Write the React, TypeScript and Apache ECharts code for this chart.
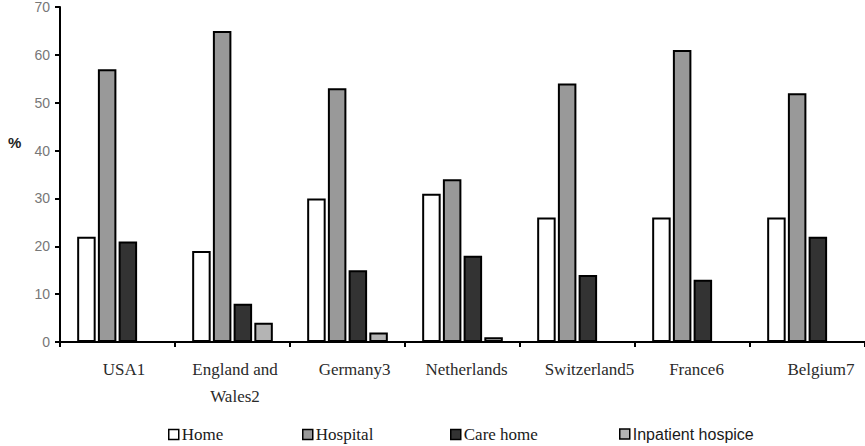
import React, { useEffect, useRef } from "react";
import * as echarts from "echarts";

const categories = ["USA1", "England and\nWales2", "Germany3", "Netherlands", "Switzerland5", "France6", "Belgium7"];
const labelShift = [13, 5, 14, 8, 24, 8, 27];
const home = [22, 19, 30, 31, 26, 26, 26];
const hospital = [57, 65, 53, 34, 54, 61, 52];
const careHome = [21, 8, 15, 18, 14, 13, 22];
const hospice: (number | null)[] = [null, 4, 2, 1, null, null, null];
const yTicks = [0, 10, 20, 30, 40, 50, 60, 70];

const seriesNames = ["Home", "Hospital", "Care home", "Inpatient hospice"];
const seriesColors = ["#ffffff", "#999999", "#333333", "#b4b4b4"];
const legendLeft = [163, 297, 445, 614];

export default function App() {
  const ref = useRef<HTMLDivElement>(null);
  useEffect(() => {
    if (!ref.current) return;
    const chart = echarts.init(ref.current, null, { renderer: "svg" });
    const dataSets = [home, hospital, careHome, hospice];
    const option: any = {
      animation: false,
      backgroundColor: "#ffffff",
      grid: { left: 60, right: -1, top: 6, bottom: 104, containLabel: false },
      xAxis: {
        type: "category",
        data: categories.map((c, i) => ({
          value: c,
          textStyle: { padding: [0, 0, 0, labelShift[i]] },
        })),
        axisLine: { lineStyle: { color: "#000", width: 2 } },
        axisTick: { show: true, length: 5, lineStyle: { color: "#000", width: 2 } },
        axisLabel: {
          margin: 14,
          fontFamily: "Liberation Serif",
          fontSize: 17,
          lineHeight: 27,
          color: "#2a2a2a",
          interval: 0,
        },
      },
      yAxis: {
        type: "value",
        min: yTicks[0],
        max: yTicks[yTicks.length - 1],
        interval: 10,
        splitLine: { show: false },
        axisLine: { show: true, lineStyle: { color: "#000", width: 2 } },
        axisTick: { show: true, length: 5, lineStyle: { color: "#000", width: 2 } },
        axisLabel: {
          margin: 10,
          fontFamily: "Liberation Sans",
          fontSize: 14,
          color: "#777",
        },
      },
      legend: seriesNames.map((n, i) => {
        const fam = i === 3 ? "Liberation Sans" : "Liberation Serif";
        const size = i === 3 ? 16 : 17;
        return {
          left: legendLeft[i],
          top: 421,
          itemWidth: 10,
          itemHeight: 10,
          itemGap: 0,
          icon: "rect",
          selectedMode: false,
          data: [
            {
              name: n,
              itemStyle: { color: seriesColors[i], borderColor: "#000", borderWidth: 1.5 },
            },
          ],
          formatter: (name: string) => "{t|" + name + "}",
          textStyle: {
            fontFamily: fam,
            fontSize: size,
            color: "#1a1a1a",
            padding: [0, 0, 0, -2],
            rich: { t: { fontFamily: fam, fontSize: size, color: "#1a1a1a" } },
          },
        };
      }),
      graphic: [
        {
          type: "text",
          left: 8,
          top: 135,
          style: { text: "%", font: "bold 15px 'Liberation Sans'", fill: "#222" },
        },
      ],
      series: dataSets.map((d, i) => ({
        name: seriesNames[i],
        type: "bar",
        data: d.map((v) => (v === null ? "-" : v)),
        barWidth: 18.5,
        barGap: "12%",
        itemStyle: { color: seriesColors[i], borderColor: "#000", borderWidth: 2 },
      })),
    };
    chart.setOption(option);
    return () => chart.dispose();
  }, []);
  return <div ref={ref} style={{ width: 865, height: 446, position: "absolute", left: 0, top: 0 }} />;
}
